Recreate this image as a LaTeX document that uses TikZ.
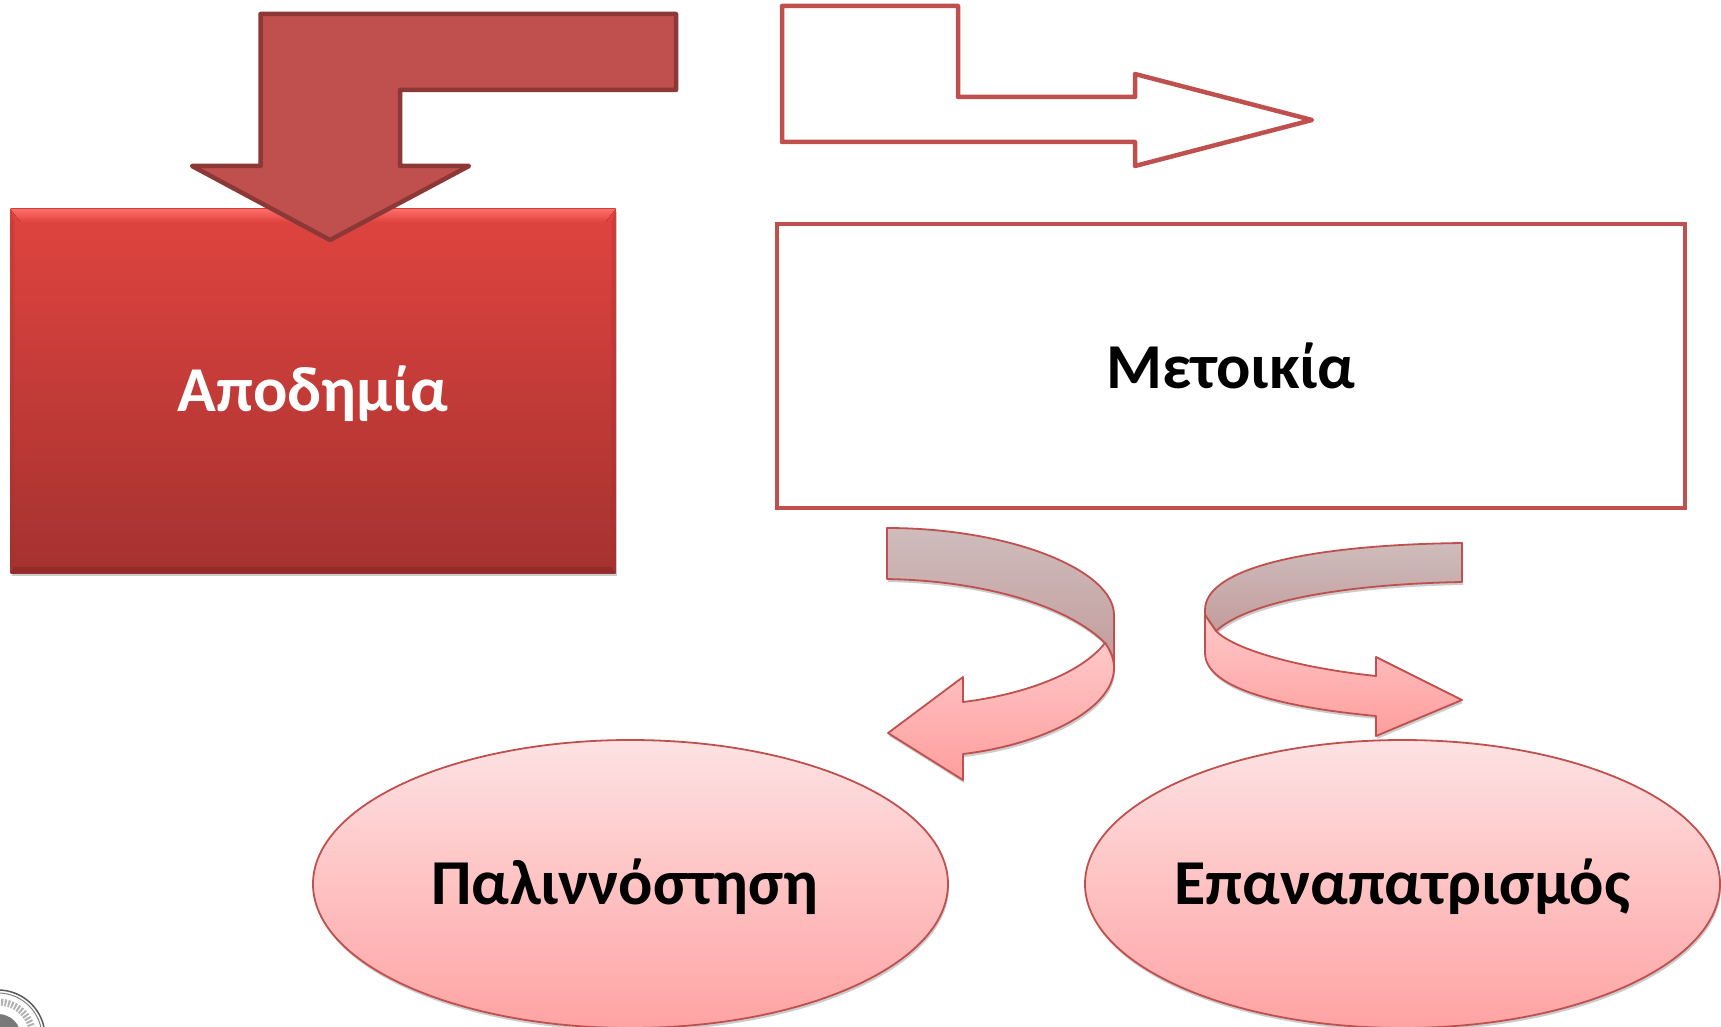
\documentclass[tikz,border=0pt]{standalone}
\usepackage{fontspec}
\setmainfont{Carlito}
\usetikzlibrary{shadows,shapes.geometric,fadings}
\definecolor{rim}{HTML}{C0504D}
\definecolor{rimdark}{HTML}{8C3836}
\definecolor{solidfill}{HTML}{BF504D}
\definecolor{bevel}{HTML}{FF6E6A}
\tikzset{
  softshadow/.style={general shadow={shadow xshift=1pt,shadow yshift=-3pt,fill=black,opacity=.2}},
  label text/.style={font=\fontsize{64}{65}\selectfont\bfseries,text=black},
  low text/.style={text height=55pt,text depth=14pt},
  oval/.style={ellipse,draw=rim,line width=1.8pt,top color=ovaltop,bottom color=ovalbot,softshadow,minimum width=635pt,minimum height=288pt,inner ysep=0pt,inner xsep=-30pt},
  darkband/.style={draw=rim,line width=1.8pt,top color=bandtop,bottom color=bandbot,line join=round},
  pinkband/.style={draw=rim,line width=1.8pt,top color=pinktop,bottom color=pinkbot,line join=round},
}
\definecolor{ovaltop}{HTML}{FDE2E3}
\definecolor{ovalbot}{HTML}{FFA3A3}
\definecolor{bandtop}{HTML}{CFBCBC}
\definecolor{bandbot}{HTML}{C39C9C}
\definecolor{pinktop}{HTML}{FFC8C8}
\definecolor{pinkbot}{HTML}{FF9E9E}
\definecolor{boxtop}{HTML}{E0443F}
\definecolor{boxbot}{HTML}{A53230}
\begin{document}
\begin{tikzpicture}[x=1pt,y=-1pt]
\useasboundingbox (0,0) rectangle (1721,1027);
\clip (0,0) rectangle (1721,1027);
% seal
\draw[gray!70!black,line width=1.5pt] (-2,1037) circle (47);
\draw[gray,line width=1pt] (-2,1037) circle (44);
\draw[gray!60,line width=7pt,dash pattern=on 2pt off 1.5pt] (-2,1037) circle (35);
\fill[gray!50!black,opacity=.7] (-2,1037) circle (23);
% red box
\node (apo) [rectangle,minimum width=605pt,minimum height=364pt,inner sep=0pt,top color=boxtop,bottom color=boxbot,softshadow,text=white,font=\fontsize{64}{65}\selectfont\bfseries,low text] at (313,391) {Αποδημία};
\fill[top color=bevel,bottom color=boxtop] (apo.north west) -- (apo.north east) -- ([xshift=-10pt,yshift=-13pt]apo.north east) -- ([xshift=10pt,yshift=-13pt]apo.north west) -- cycle;
\fill[boxbot,opacity=.3] (apo.north west) -- ([xshift=4pt,yshift=-13pt]apo.north west) -- ([xshift=4pt,yshift=6pt]apo.south west) -- (apo.south west) -- cycle;
\fill[boxbot,opacity=.3] (apo.north east) -- ([xshift=-4pt,yshift=-13pt]apo.north east) -- ([xshift=-4pt,yshift=6pt]apo.south east) -- (apo.south east) -- cycle;
\fill[black!60!boxbot,opacity=.2] (apo.south west) -- ([xshift=4pt,yshift=6pt]apo.south west) -- ([xshift=-4pt,yshift=6pt]apo.south east) -- (apo.south east) -- cycle;
% solid bent arrow
\draw[draw=rimdark,fill=solidfill,line width=4.5pt,line join=round]
  (260.5,14) -- (676,14) -- (676,90) -- (400,90) -- (400,166) -- (469,166) -- (330,240) -- (192,166) -- (260.5,166) -- cycle;
% hollow bent arrow
\draw[draw=rim,fill=white,line width=4.5pt,line join=round]
  (782,6) -- (958,6) -- (958,97) -- (1135,97) -- (1135,74) -- (1312,120) -- (1135,166) -- (1135,142) -- (782,142) -- cycle;
% Metoikia box
\node (met) [rectangle,draw=rim,fill=white,line width=4.5pt,minimum width=908pt,minimum height=284pt,inner sep=0pt,label text] at (1231,366) {Μετοικία};
% ovals
\node (pal) [oval,label text,low text] at (630.5,884) {\hspace*{-11pt}Παλιννόστηση};
\node (epa) [oval,label text,low text] at (1402.5,884) {Επαναπατρισμός};
% left curved arrow
\path[darkband,softshadow]
  (887,528) .. controls (1010,528) and (1114,570) .. (1114,615) -- (1114,668)
  .. controls (1114,658) and (1110,650) .. (1105,643)
  .. controls (1070,608) and (990,581) .. (887,579) -- cycle;
\path[pinkband,softshadow]
  (1105,643) .. controls (1110,650) and (1114,658) .. (1114,668)
  .. controls (1114,710) and (1040,745) .. (963,754) -- (963,780) -- (888,733) -- (963,677) -- (963,702)
  .. controls (1020,695) and (1080,675) .. (1105,643) -- cycle;
% right curved arrow
\path[darkband,softshadow]
  (1462,543) .. controls (1300,545) and (1205,570) .. (1205,610) -- (1205,615) -- (1216,631)
  .. controls (1250,600) and (1350,584) .. (1462,582) -- cycle;
\path[pinkband,softshadow]
  (1205,615) -- (1216,631) .. controls (1235,650) and (1300,668) .. (1376,676) -- (1376,657) -- (1462,700) -- (1376,736) -- (1376,716)
  .. controls (1290,708) and (1205,690) .. (1205,653) -- cycle;
\end{tikzpicture}
\end{document}
